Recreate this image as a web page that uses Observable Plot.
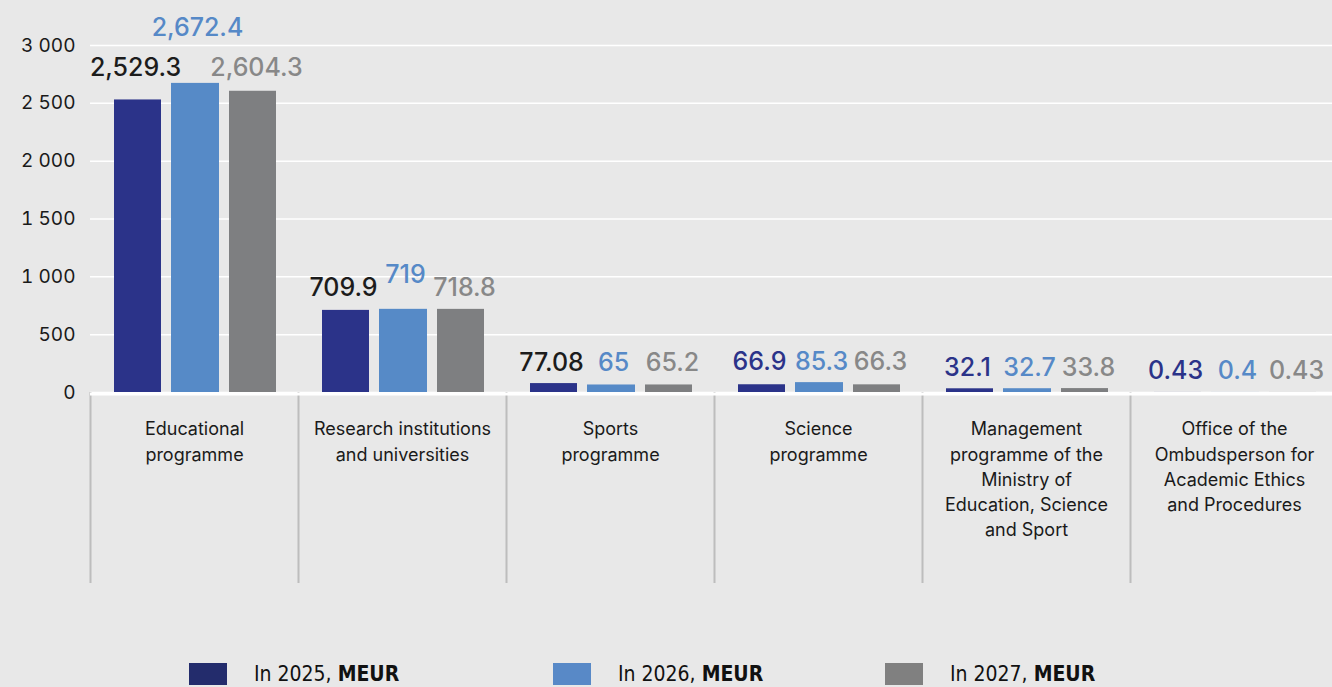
<!DOCTYPE html>
<html>
<head>
<meta charset="utf-8">
<script src="https://cdn.jsdelivr.net/npm/d3@7"></script>
<script src="https://cdn.jsdelivr.net/npm/@observablehq/plot@0.6"></script>
<style>
  html, body { margin: 0; padding: 0; background: #e8e8e8; width: 1332px; height: 687px; overflow: hidden; font-family: Inter, sans-serif; }
  #chart { position: absolute; left: 0; top: 0; }
  #legend { position: absolute; left: 0; top: 662px; width: 1332px; height: 25px; }
  .item { position: absolute; top: 0; display: flex; align-items: center; height: 23px; }
  .sw { width: 38px; height: 22px; margin-right: 27px; }
  .lt { font-family: "Liberation Sans Narrow", "DejaVu Sans Condensed", sans-serif; font-size: 21px; color: #111; white-space: nowrap; }
  .lt b { font-weight: 700; }
</style>
</head>
<body>
<div id="chart"></div>
<div id="legend"></div>
<script>
// ---- data ----
const categories = [
  "Educational programme",
  "Research institutions and universities",
  "Sports programme",
  "Science programme",
  "Management programme of the Ministry of Education, Science and Sport",
  "Office of the Ombudsperson for Academic Ethics and Procedures"
];
const categoryLabels = [
  "Educational\nprogramme",
  "Research institutions\nand universities",
  "Sports\nprogramme",
  "Science\nprogramme",
  "Management\nprogramme of the\nMinistry of\nEducation, Science\nand Sport",
  "Office of the\nOmbudsperson for\nAcademic Ethics\nand Procedures"
];
const years = ["2025", "2026", "2027"];
const y2025 = [2529.3, 709.9, 77.08, 66.9, 32.1, 0.43];
const y2026 = [2672.4, 719, 65, 85.3, 32.7, 0.4];
const y2027 = [2604.3, 718.8, 65.2, 66.3, 33.8, 0.43];
const yTicks = [0, 500, 1000, 1500, 2000, 2500, 3000];
const legendLabels = ["In 2025, ", "In 2026, ", "In 2027, "];
const legendUnit = "MEUR";

// ---- styling / layout ----
const values = [y2025, y2026, y2027];
const barColors = ["#2b3389", "#568ac7", "#7e7f81"];
const swatchColors = ["#232c6c", "#5889c7", "#808080"];
const labelColors = ["#2b3389", "#5689c7", "#888888"];
const insets = [[24, 137], [81, 79], [139, 22]];
const labelDx = [-59, 3, 62];
const yRange = [392, 45];
const pxPerUnit = (yRange[0] - yRange[1]) / 3000;
const fmt = d3.format(",");

const rows = [];
categories.forEach((c, i) => years.forEach((yr, j) => rows.push({cat: c, i, year: yr, s: j, value: values[j][i]})));
const groupMax = categories.map((c, i) => Math.max(y2025[i], y2026[i], y2027[i]));

// approximate label width to decide whether the middle label must be raised
const textW = s => [...s].reduce((w, ch) => w + (/[0-9]/.test(ch) ? 15.5 : 7), 0);
function lift(d) {
  const gap = (labelDx[1] - labelDx[0]) - (textW(fmt(y2025[d.i])) + textW(fmt(y2026[d.i]))) / 2;
  if (d.s !== 1) return gap < 0 ? -6 : 0;
  return gap < 0 ? 34 : gap < 5 ? 13 : 0;
}
const darkLabelFill = d => d.i < 3 ? "#1c1c1c" : labelColors[0];

const marks = [
  Plot.gridY(yTicks, {stroke: "#ffffff", strokeOpacity: 1, strokeWidth: 1.5}),
  Plot.axisY(yTicks, {tickSize: 0, tickPadding: 15, fontSize: 19, label: null, tickFormat: d => fmt(d).replace(/,/g, " ")}),
  Plot.ruleX(categories, {x: d => d, dx: -104, y1: () => 0, y2: () => -191 / pxPerUnit, stroke: "#bdbdbd", strokeWidth: 2}),
  Plot.ruleY([0], {stroke: "#ffffff", strokeWidth: 3, dy: 1.5}),
  ...years.map((yr, j) => Plot.barY(rows.filter(d => d.s === j), {
    x: "cat", y: "value", fill: barColors[j], insetLeft: insets[j][0], insetRight: insets[j][1]
  })),
  ...years.map((yr, j) => Plot.text(rows.filter(d => d.s === j), {
    x: "cat",
    y: d => groupMax[d.i] + lift(d) / pxPerUnit,
    text: d => fmt(d.value),
    dx: labelDx[j], dy: -21,
    fontSize: 25, fontWeight: 500,
    fill: j === 0 ? darkLabelFill : labelColors[j]
  })),
  Plot.text(categories, {
    x: d => d, y: () => 0, text: (d, i) => categoryLabels[i],
    lineAnchor: "top", dy: 25, fontSize: 18, lineHeight: 1.4, fill: "#1a1a1a"
  })
];

const chart = Plot.plot({
  width: 1332, height: 600,
  marginLeft: 90, marginRight: 0, marginTop: 0, marginBottom: 17,
  style: {background: "transparent", fontFamily: "Inter, sans-serif", color: "#1a1a1a", overflow: "hidden"},
  x: {type: "band", domain: categories, range: [90, 1338], padding: 0, axis: null},
  y: {domain: [0, 3000], range: yRange, axis: null},
  marks
});
document.getElementById("chart").appendChild(chart);

// ---- legend ----
const legendX = [189, 553, 885];
const legend = document.getElementById("legend");
years.forEach((yr, j) => {
  const item = document.createElement("div");
  item.className = "item";
  item.style.left = legendX[j] + "px";
  item.innerHTML = `<div class="sw" style="background:${swatchColors[j]}"></div><span class="lt">${legendLabels[j]}<b>${legendUnit}</b></span>`;
  legend.appendChild(item);
});
</script>
</body>
</html>
